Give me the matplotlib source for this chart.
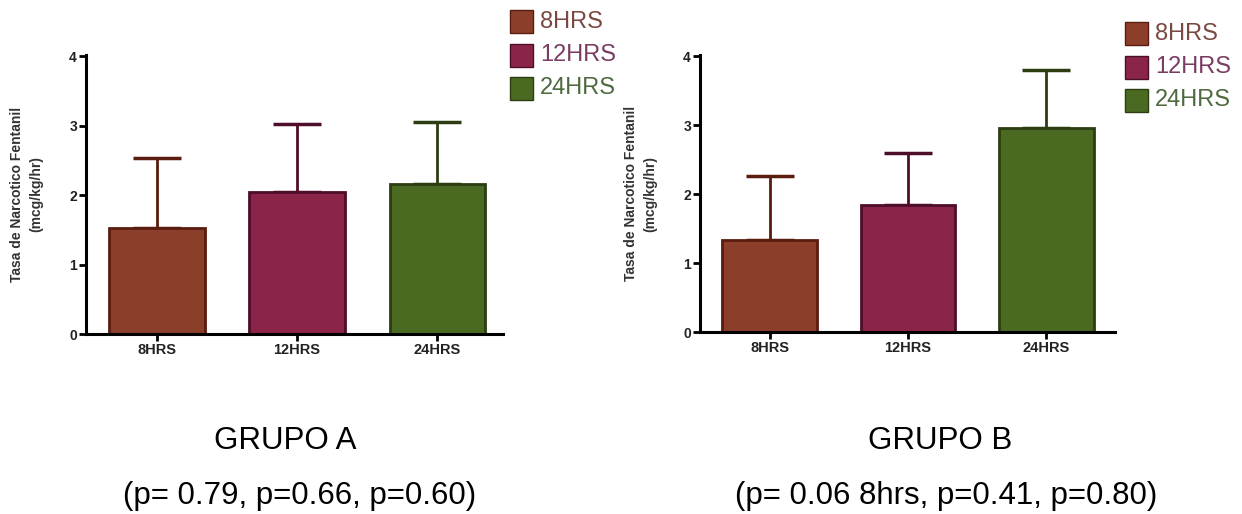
import matplotlib
matplotlib.use("Agg")
import matplotlib.pyplot as plt

plt.rcParams['font.family'] = ['Liberation Sans', 'DejaVu Sans']

categories = ["8HRS", "12HRS", "24HRS"]
grupo_a_mean = [1.53, 2.05, 2.16]
grupo_a_err = [1.00, 0.97, 0.89]
grupo_b_mean = [1.33, 1.85, 2.96]
grupo_b_err = [0.93, 0.75, 0.84]

fill_colors = ["#8b3f2b", "#8a2549", "#4a6a21"]
edge_colors = ["#5a1c0e", "#4e0d2a", "#2c3d12"]
legend_text_colors = ["#7a4a42", "#7a3c62", "#4f6a40"]

title_a = "GRUPO A"
sub_a = "(p= 0.79, p=0.66, p=0.60)"
title_b = "GRUPO B"
sub_b = "(p= 0.06 8hrs, p=0.41, p=0.80)"
ylabel = "Tasa de Narcotico Fentanil\n(mcg/kg/hr)"

W, H = 1242, 514
fig = plt.figure(figsize=(W / 100, H / 100), dpi=100)


def make_axes(left, right, bottom, top, means, errs, xlim):
    ax = fig.add_axes([left / W, 1 - bottom / H, (right - left) / W, (bottom - top) / H])
    x = list(range(len(categories)))
    for i in x:
        ax.bar(i, means[i], width=0.68, color=fill_colors[i], edgecolor=edge_colors[i],
               linewidth=2.0, zorder=2)
        ax.errorbar(i, means[i], yerr=[[0], [errs[i]]], fmt='none', ecolor=edge_colors[i],
                    elinewidth=2.0, capsize=17.5, capthick=2.5, zorder=1)
    ax.set_xlim(*xlim)
    ax.set_ylim(0, 4.02)
    ax.set_yticks([0, 1, 2, 3, 4])
    ax.set_xticks(x)
    ax.set_xticklabels(categories, fontsize=10.5, fontweight='bold', color='#222222')
    for lab in ax.get_yticklabels():
        lab.set_fontsize(10)
        lab.set_fontweight('bold')
        lab.set_color('#222222')
    ax.tick_params(axis='both', direction='out', length=5, width=2, colors='black', pad=1.5,
                   labelcolor='#222222')
    ax.spines['top'].set_visible(False)
    ax.spines['right'].set_visible(False)
    ax.spines['left'].set_linewidth(2.2)
    ax.spines['bottom'].set_linewidth(2.2)
    ax.spines['left'].set_bounds(0, 4.02)
    ax.set_ylabel(ylabel, fontsize=10, fontweight='bold', labelpad=19, linespacing=1.4,
                  color='#333333')
    ax.patch.set_alpha(0)
    return ax


ax_a = make_axes(86, 503, 334, 55, grupo_a_mean, grupo_a_err, (-0.507, 2.47))
ax_b = make_axes(700, 1115, 332, 55, grupo_b_mean, grupo_b_err, (-0.502, 2.495))


def make_legend(xsq, ytop):
    for i, cat in enumerate(categories):
        y = ytop + i * 33.5
        fig.patches.append(matplotlib.patches.Rectangle(
            (xsq / W, 1 - (y + 23) / H), 23 / W, 23 / H, transform=fig.transFigure,
            facecolor=fill_colors[i], edgecolor=edge_colors[i], linewidth=1.0))
        fig.text((xsq + 30) / W, 1 - (y + 11.5) / H, cat, fontsize=17,
                 color=legend_text_colors[i], ha='left', va='center')


make_legend(510, 10)
make_legend(1125, 22)

fig.text(285 / W, 1 - 441 / H, title_a, fontsize=22.5, ha='center', va='center')
fig.text(300 / W, 1 - 496 / H, sub_a, fontsize=22.5, ha='center', va='center')
fig.text(940 / W, 1 - 441 / H, title_b, fontsize=22.5, ha='center', va='center')
fig.text(946 / W, 1 - 496 / H, sub_b, fontsize=22.5, ha='center', va='center')

fig.savefig("out.png", dpi=100)
